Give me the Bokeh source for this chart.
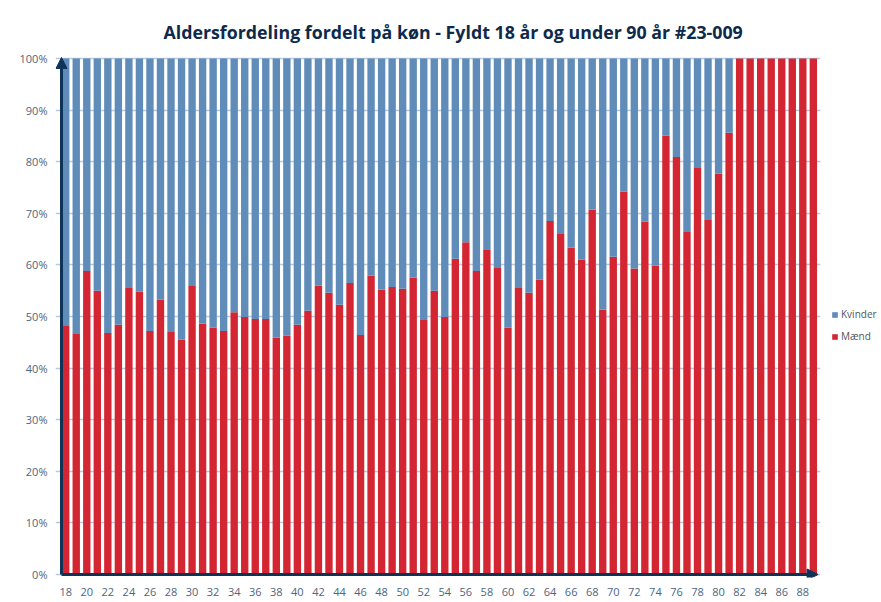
from bokeh.plotting import figure
from bokeh.models import (ColumnDataSource, Range1d, FixedTicker, PrintfTickFormatter,
                          Legend, LegendItem, Arrow, NormalHead)
from bokeh.embed import file_html
from bokeh.resources import INLINE

# ---- data ----
ages = list(range(18, 90))
maend = [48.3, 46.6, 58.8, 55.0, 46.8, 48.4, 55.5, 54.8, 47.2, 53.3,
         47.0, 45.5, 55.9, 48.6, 47.8, 47.2, 50.8, 49.9, 49.5, 49.5,
         45.9, 46.3, 48.4, 51.1, 56.0, 54.6, 52.3, 56.5, 46.4, 57.9,
         55.2, 55.7, 55.4, 57.5, 49.3, 55.0, 49.9, 61.2, 64.4, 58.8,
         62.9, 59.4, 47.8, 55.5, 54.6, 57.1, 68.5, 66.0, 63.3, 61.0,
         70.7, 51.3, 61.6, 74.2, 59.3, 68.4, 59.9, 85.1, 80.9, 66.5,
         78.8, 68.7, 77.7, 85.6, 100.0, 100.0, 100.0, 100.0, 100.0, 100.0,
         100.0, 100.0]
kvinder = [51.7, 53.4, 41.2, 45.0, 53.2, 51.6, 44.5, 45.2, 52.8, 46.7,
           53.0, 54.5, 44.1, 51.4, 52.2, 52.8, 49.2, 50.1, 50.5, 50.5,
           54.1, 53.7, 51.6, 48.9, 44.0, 45.4, 47.7, 43.5, 53.6, 42.1,
           44.8, 44.3, 44.6, 42.5, 50.7, 45.0, 50.1, 38.8, 35.6, 41.2,
           37.1, 40.6, 52.2, 44.5, 45.4, 42.9, 31.5, 34.0, 36.7, 39.0,
           29.3, 48.7, 38.4, 25.8, 40.7, 31.6, 40.1, 14.9, 19.1, 33.5,
           21.2, 31.3, 22.3, 14.4, 0.0, 0.0, 0.0, 0.0, 0.0, 0.0,
           0.0, 0.0]
x_ticks = list(range(18, 89, 2))
y_ticks = list(range(0, 101, 10))
title_text = "Aldersfordeling fordelt på køn - Fyldt 18 år og under 90 år #23-009"

NAVY = "#0f3358"
RED = "#d42632"
BLUE = "#5f8cb9"
LABEL = "#4d6580"

source = ColumnDataSource(dict(age=ages, maend=maend, kvinder=kvinder))

# axis positions (data units) and a small pad around them so arrows are not clipped
ax_x0, ax_x1 = 17.6, 89.45
p = figure(width=881, height=600, output_backend="svg", toolbar_location=None,
           x_range=Range1d(17.03, 89.68), y_range=Range1d(-0.58, 101.55),
           frame_width=765, frame_height=527,
           min_border_left=55, min_border_right=61, min_border_top=50, min_border_bottom=23)
p.outline_line_color = None

p.title.text = title_text
p.title.align = "left"
p.title.offset = 108
p.title.standoff = 14
p.title.text_font = "Open Sans"
p.title.text_font_size = "17.8px"
p.title.text_font_style = "bold"
p.title.text_color = "#0e2a4a"

r = p.vbar_stack(["maend", "kvinder"], x="age", width=0.7, source=source,
                 color=[RED, BLUE], line_color=None)

# axes (lines drawn as arrows below)
for ax in (p.xaxis[0], p.yaxis[0]):
    ax.axis_line_color = None
    ax.major_tick_line_color = None
    ax.minor_tick_line_color = None
    ax.major_label_text_font = "Open Sans"
    ax.major_label_text_font_size = "11px"
    ax.major_label_text_color = LABEL

p.xaxis.ticker = FixedTicker(ticks=x_ticks)
p.xaxis.major_label_standoff = 4
p.yaxis.ticker = FixedTicker(ticks=y_ticks)
p.yaxis.formatter = PrintfTickFormatter(format="%d%%")
p.yaxis.major_label_standoff = 2

p.xgrid.grid_line_color = None
p.ygrid.grid_line_color = "#b7c9dd"
p.ygrid.grid_line_width = 1.5

# axis lines with arrow heads
p.add_layout(Arrow(end=NormalHead(size=11, fill_color=NAVY, line_color=NAVY),
                   x_start=ax_x0, y_start=0, x_end=ax_x0, y_end=100.2,
                   line_color=NAVY, line_width=3))
p.add_layout(Arrow(end=NormalHead(size=11, fill_color=NAVY, line_color=NAVY),
                   x_start=ax_x0, y_start=0, x_end=ax_x1, y_end=0,
                   line_color=NAVY, line_width=3))

legend = Legend(items=[LegendItem(label="Kvinder", renderers=[r[1]]),
                       LegendItem(label="Mænd", renderers=[r[0]])],
                location=(11, 234), orientation="vertical",
                padding=0, margin=0, spacing=8,
                glyph_width=7, glyph_height=7, label_standoff=3,
                label_text_font="Open Sans", label_text_font_size="10px",
                label_text_color="#555555",
                background_fill_alpha=0, border_line_color=None)
p.add_layout(legend, "right")

open("out.html", "w").write(file_html(p, INLINE))
